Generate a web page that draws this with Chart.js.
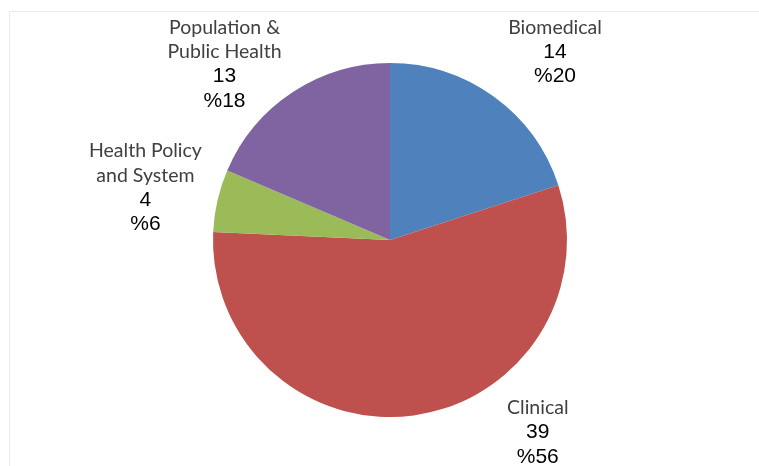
<!DOCTYPE html>
<html>
<head>
<meta charset="utf-8">
<script src="https://cdn.jsdelivr.net/npm/chart.js@4"></script>
<style>
  html, body { margin: 0; padding: 0; background: #fff; }
  #wrap { position: relative; width: 759px; height: 466px; }
</style>
</head>
<body>
<div id="wrap"><canvas id="chart"></canvas></div>
<script>
const categories = [['Biomedical'], ['Clinical'], ['Health Policy', 'and System'], ['Population &', 'Public Health']];
const counts = [14, 39, 4, 13];
const percentLabels = ['%20', '%56', '%6', '%18'];
const sliceColors = ['#4F81BD', '#BE504D', '#9BBB59', '#8064A2'];

// label block offset from the point on the rim at each slice's mid angle
const labelOffsets = [[61, -45], [124, 17], [-72, -13], [-68, -28]];

const frame = {
  id: 'frame',
  beforeDraw(chart) {
    const { ctx } = chart;
    ctx.save();
    ctx.strokeStyle = '#ebebeb';
    ctx.lineWidth = 1;
    ctx.strokeRect(9.5, 11.5, 760, 470);
    ctx.restore();
  }
};

const sliceLabels = {
  id: 'sliceLabels',
  afterDatasetsDraw(chart) {
    const { ctx } = chart;
    const meta = chart.getDatasetMeta(0);
    const lineH = 24.5;
    meta.data.forEach((arc, i) => {
      const { x, y, startAngle, endAngle, outerRadius } = arc.getProps(['x', 'y', 'startAngle', 'endAngle', 'outerRadius'], true);
      const mid = (startAngle + endAngle) / 2;
      const cx = x + Math.cos(mid) * outerRadius + labelOffsets[i][0];
      const cy = y + Math.sin(mid) * outerRadius + labelOffsets[i][1];
      const lines = [
        ...categories[i].map(t => ({ t, font: '19.5px Lato', color: '#404040' })),
        { t: String(counts[i]), font: '21px "Liberation Sans"', color: '#000' },
        { t: percentLabels[i], font: '21px "Liberation Sans"', color: '#000' }
      ];
      const top = cy - (lines.length - 1) * lineH / 2;
      ctx.save();
      ctx.textAlign = 'center';
      ctx.textBaseline = 'middle';
      lines.forEach((ln, k) => {
        ctx.font = ln.font;
        ctx.fillStyle = ln.color;
        ctx.fillText(ln.t, cx, top + k * lineH);
      });
      ctx.restore();
    });
  }
};

new Chart(document.getElementById('chart'), {
  type: 'pie',
  data: {
    labels: categories.map(c => c.join(' ')),
    datasets: [{
      data: counts,
      backgroundColor: sliceColors,
      borderWidth: 0,
      hoverOffset: 0
    }]
  },
  options: {
    responsive: true,
    maintainAspectRatio: false,
    animation: false,
    layout: { padding: { left: 213, right: 192, top: 63, bottom: 49 } },
    plugins: {
      legend: { display: false },
      tooltip: { enabled: false }
    }
  },
  plugins: [frame, sliceLabels]
});
</script>
</body>
</html>
